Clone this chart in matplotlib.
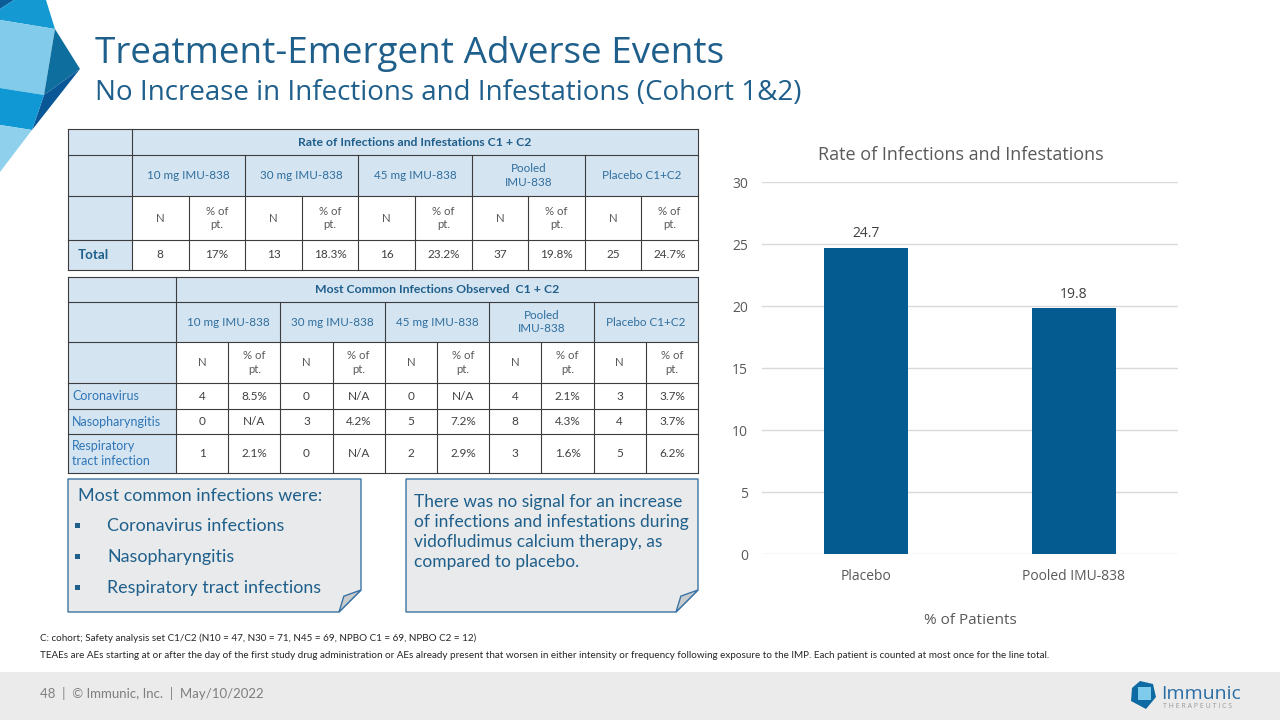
import matplotlib
matplotlib.use("Agg")
import matplotlib.pyplot as plt
from matplotlib.patches import Rectangle, Polygon

# data
groups = ["10 mg IMU-838", "30 mg IMU-838", "45 mg IMU-838", "Pooled\nIMU-838", "Placebo C1+C2"]
total_n = [8, 13, 16, 37, 25]
total_pct = ["17%", "18.3%", "23.2%", "19.8%", "24.7%"]
infections = ["Coronavirus", "Nasopharyngitis", "Respiratory\ntract infection"]
infection_n = [[4, 0, 0, 4, 3],
               [0, 3, 5, 8, 4],
               [1, 0, 2, 3, 5]]
infection_pct = [["8.5%", "N/A", "N/A", "2.1%", "3.7%"],
                 ["N/A", "4.2%", "7.2%", "4.3%", "3.7%"],
                 ["2.1%", "N/A", "2.9%", "1.6%", "6.2%"]]
bar_labels = ["Placebo", "Pooled IMU-838"]
bar_values = [24.7, 19.8]
common_infections = ["Coronavirus infections", "Nasopharyngitis", "Respiratory tract infections"]

TITLE_BLUE = "#1f5f8b"
HEAD_FILL = "#d5e4f1"
LINE = "#3c3c3c"
GRAY_TXT = "#595959"
TFONT = "Lato"

fig = plt.figure(figsize=(12.8, 7.2), dpi=100)
bg = fig.add_axes([0, 0, 1, 1])
bg.set_xlim(0, 1280)
bg.set_ylim(720, 0)
bg.axis("off")

# corner decoration
shapes = [
    ([(0, 0), (14, 0), (0, 9)], "#0b5c97"),
    ([(14, 0), (46, 0), (55, 29), (0, 20), (0, 9)], "#1499d3"),
    ([(0, 20), (55, 29), (44, 95), (0, 88)], "#82cbea"),
    ([(55, 29), (80, 69), (44, 95)], "#0e6f9f"),
    ([(80, 69), (44, 95), (32, 130)], "#0a5797"),
    ([(0, 88), (44, 95), (32, 130), (0, 125)], "#0f98d4"),
    ([(0, 125), (32, 130), (0, 172)], "#8fd1ed"),
]
for pts, c in shapes:
    bg.add_patch(Polygon(pts, closed=True, facecolor=c, edgecolor="none"))

bg.text(95, 63, "Treatment-Emergent Adverse Events", fontsize=26.6, color=TITLE_BLUE,
        family="Open Sans", va="baseline")
bg.text(95, 100, "No Increase in Infections and Infestations (Cohort 1&2)", fontsize=20,
        color=TITLE_BLUE, family="Open Sans", va="baseline")


def draw_table(x0, x1, first_w, rows_y, title, label_rows, n_rows, pct_rows, label_bold):
    sub_w = (x1 - x0 - first_w) / 10
    cx0 = x0 + first_w
    # fills
    for r in range(len(rows_y) - 1):
        ya, yb = rows_y[r], rows_y[r + 1]
        bg.add_patch(Rectangle((x0, ya), first_w, yb - ya, facecolor=HEAD_FILL, edgecolor="none"))
        fill = HEAD_FILL if r < 2 else "white"
        bg.add_patch(Rectangle((cx0, ya), x1 - cx0, yb - ya, facecolor=fill, edgecolor="none"))
    # grid lines
    for y in rows_y:
        bg.plot([x0, x1], [y, y], color=LINE, lw=0.8)
    bg.plot([x0, x0], [rows_y[0], rows_y[-1]], color=LINE, lw=0.8)
    bg.plot([x1, x1], [rows_y[0], rows_y[-1]], color=LINE, lw=0.8)
    bg.plot([cx0, cx0], [rows_y[0], rows_y[-1]], color=LINE, lw=0.8)
    for g in range(1, 5):
        xx = cx0 + 2 * g * sub_w
        bg.plot([xx, xx], [rows_y[1], rows_y[-1]], color=LINE, lw=0.8)
    for g in range(5):
        xx = cx0 + (2 * g + 1) * sub_w
        bg.plot([xx, xx], [rows_y[2], rows_y[-1]], color=LINE, lw=0.8)
    # header text
    bg.text((cx0 + x1) / 2, (rows_y[0] + rows_y[1]) / 2, title, ha="center", va="center",
            fontsize=8.8, color=TITLE_BLUE, weight="bold", family=TFONT)
    ym1 = (rows_y[1] + rows_y[2]) / 2
    ym2 = (rows_y[2] + rows_y[3]) / 2
    for g, name in enumerate(groups):
        gx = cx0 + (2 * g + 1) * sub_w
        bg.text(gx, ym1, name, ha="center", va="center", fontsize=8.4, color="#2e6e9e",
                family=TFONT, linespacing=1.25)
        bg.text(cx0 + (2 * g + 0.5) * sub_w, ym2, "N", ha="center", va="center",
                fontsize=8.2, color=GRAY_TXT, family=TFONT)
        bg.text(cx0 + (2 * g + 1.5) * sub_w, ym2, "% of\npt.", ha="center", va="center",
                fontsize=8.2, color=GRAY_TXT, family=TFONT, linespacing=1.25)
    # body
    for i, lab in enumerate(label_rows):
        ym = (rows_y[3 + i] + rows_y[4 + i]) / 2
        if label_bold:
            bg.text(x0 + 10, ym, lab, ha="left", va="center", fontsize=9.6, color=TITLE_BLUE,
                    weight="bold", family=TFONT)
        else:
            bg.text(x0 + 4, ym, lab, ha="left", va="center", fontsize=9, color="#2e75b6",
                    family=TFONT, linespacing=1.25)
        for g in range(5):
            bg.text(cx0 + (2 * g + 0.5) * sub_w, ym, str(n_rows[i][g]), ha="center",
                    va="center", fontsize=8.5, color="#404040", family=TFONT)
            bg.text(cx0 + (2 * g + 1.5) * sub_w, ym, pct_rows[i][g], ha="center",
                    va="center", fontsize=8.5, color="#404040", family=TFONT)


draw_table(68, 698, 64, [129, 155, 196, 240, 270], "Rate of Infections and Infestations C1 + C2",
           ["Total"], [total_n], [total_pct], True)
draw_table(68, 698, 108, [277, 302, 342, 383, 409, 434, 473], "Most Common Infections Observed  C1 + C2",
           infections, infection_n, infection_pct, False)


def note_box(x0, y0, x1, y1, fold=22):
    pts = [(x0, y0), (x1, y0), (x1, y1 - fold), (x1 - fold, y1), (x0, y1)]
    bg.add_patch(Polygon(pts, closed=True, facecolor="#e8eaeb", edgecolor="#3b74a6", lw=1))
    tri = [(x1, y1 - fold), (x1 - fold, y1), (x1 - fold * 0.78, y1 - fold * 0.72)]
    bg.add_patch(Polygon(tri, closed=True, facecolor="#c9cccd", edgecolor="#3b74a6", lw=1))


note_box(68, 479, 361, 612)
note_box(406, 479, 698, 612)

bg.text(78, 496, "Most common infections were:", fontsize=12.9, color=TITLE_BLUE, family=TFONT,
        va="center")
for i, item in enumerate(common_infections):
    yy = 526 + i * 31
    bg.add_patch(Rectangle((75, yy - 3), 5, 5, facecolor=TITLE_BLUE, edgecolor="none"))
    bg.text(107, yy, item, fontsize=12.9, color=TITLE_BLUE, family=TFONT, va="center")

bg.text(414, 532, "There was no signal for an increase\nof infections and infestations during\n"
        "vidofludimus calcium therapy, as\ncompared to placebo.", fontsize=12.5,
        color=TITLE_BLUE, family=TFONT, va="center", linespacing=1.3)

# footnotes
bg.text(40, 638, "C: cohort; Safety analysis set C1/C2 (N10 = 47, N30 = 71, N45 = 69, NPBO C1 = 69, NPBO C2 = 12)",
        fontsize=7.1, color="#262626", family=TFONT, va="center")
bg.text(40, 656, "TEAEs are AEs starting at or after the day of the first study drug administration or AEs already "
        "present that worsen in either intensity or frequency following exposure to the IMP. Each patient is "
        "counted at most once for the line total.", fontsize=7.15, color="#262626", family=TFONT, va="center")

# footer
bg.add_patch(Rectangle((0, 672), 1280, 48, facecolor="#ebebeb", edgecolor="none"))
bg.text(40, 694, "48  |  \u00a9 Immunic, Inc.  |  May/10/2022", fontsize=9.5, color="#7f7f7f",
        family=TFONT, va="center")
bg.add_patch(Polygon([(1140, 681), (1153, 684), (1156, 697), (1146, 709), (1131, 701), (1132, 688)],
                     closed=True, facecolor="#0e6aa3", edgecolor="none"))
bg.add_patch(Polygon([(1138, 687), (1151, 687), (1151, 700), (1138, 700)],
                     closed=True, facecolor="#7fcbeb", edgecolor="none"))
bg.text(1161, 699, "Immunic", fontsize=14, color="#2a6ea6", family="Open Sans", va="baseline")
bg.text(1163, 706, "T H E R A P E U T I C S", fontsize=5, color="#9a9a9a", family="Open Sans",
        va="center")

# bar chart
ax = fig.add_axes([762 / 1280, 1 - 554 / 720, 416 / 1280, 372 / 720])
x = range(len(bar_labels))
bars = ax.bar(x, bar_values, width=0.4, color="#045b90", zorder=3)
ax.bar_label(bars, labels=[f"{v:.1f}" for v in bar_values], padding=5, fontsize=10,
             color="#404040", family="Open Sans")
ax.set_xlim(-0.5, 1.5)
ax.set_ylim(0, 30)
ax.set_yticks(range(0, 31, 5))
ax.set_xticks(list(x))
ax.set_xticklabels(bar_labels)
ax.grid(axis="y", color="#d9d9d9", lw=1, zorder=0)
for s in ax.spines.values():
    s.set_visible(False)
ax.tick_params(length=0, labelsize=10, labelcolor=GRAY_TXT, pad=10)
ax.tick_params(axis="x", pad=11)
for lab in ax.get_xticklabels() + ax.get_yticklabels():
    lab.set_family("Open Sans")
ax.set_title("Rate of Infections and Infestations", fontsize=13, color=GRAY_TXT,
             family="Open Sans", pad=16, x=0.477)
ax.set_xlabel("% of Patients", fontsize=11, color=GRAY_TXT, family="Open Sans", labelpad=21)

fig.savefig("out.png", dpi=100)
